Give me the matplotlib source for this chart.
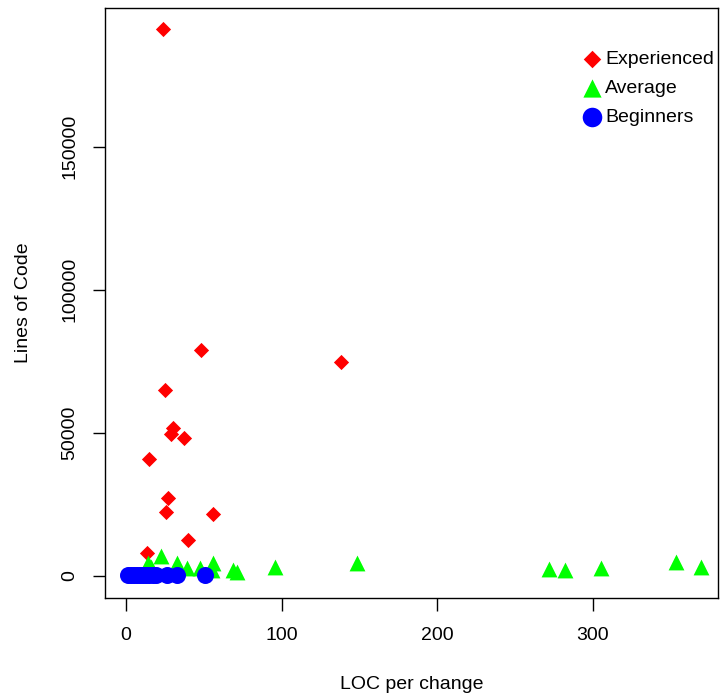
import matplotlib
matplotlib.use("Agg")
import matplotlib.pyplot as plt

plt.rcParams['font.family'] = ['Liberation Sans', 'DejaVu Sans']

exp_x = [23.9, 48.0, 138.1, 25.2, 29.9, 28.8, 37.4, 14.7, 27.1, 25.8, 56.0, 39.9, 13.4]
exp_y = [191000, 79000, 74700, 64900, 51500, 49400, 48000, 40700, 27300, 22300, 21500, 12500, 7800]

avg_x = [22.4, 13.8, 32.9, 38.9, 47.5, 56.0, 55.0, 68.9, 71.1, 95.5, 148.6, 271.9, 282.4, 305.1, 353.8, 369.8, 16.0]
avg_y = [6900, 4300, 4300, 2600, 2600, 4300, 2000, 2000, 1400, 3000, 4300, 2200, 2000, 2600, 4700, 2900, 3000]

beg_x = [1, 3, 5, 7, 9, 11, 13, 15, 17, 19, 26, 33, 51]
beg_y = [200, 150, 300, 100, 250, 200, 150, 300, 200, 100, 250, 200, 150]

fig = plt.figure(figsize=(7.2, 6.96), dpi=100)
ax = fig.add_axes([105/720, 1-598/696, (718-105)/720, (598-8)/696])

ax.scatter(exp_x, exp_y, marker='D', s=60, color='#ff0000', linewidths=0, label='Experienced', zorder=3)
ax.scatter(avg_x, avg_y, marker='^', s=130, color='#00ff00', linewidths=0, label='Average', zorder=3)
ax.scatter(beg_x, beg_y, marker='o', s=150, color='#0000ff', linewidths=0, label='Beginners', zorder=4)

ax.set_xlim(-13.6, 380.6)
ax.set_ylim(-7800, 198500)
ax.set_xticks([0, 100, 200, 300])
ax.set_yticks([0, 50000, 100000, 150000])
ax.set_yticklabels(['0', '50000', '100000', '150000'], rotation=90, va='center')
ax.tick_params(direction='out', length=9, width=1, labelsize=14)
ax.tick_params(axis='x', pad=12)
ax.tick_params(axis='y', pad=10)
for s in ax.spines.values():
    s.set_linewidth(1)
ax.set_xlabel('LOC per change', fontsize=14, labelpad=23)
ax.set_ylabel('Lines of Code', fontsize=14, labelpad=21)

leg = ax.legend(loc='upper left', bbox_to_anchor=(584/720, 1-50/696), bbox_transform=fig.transFigure,
                frameon=False, fontsize=14, markerscale=1.15,
                handlelength=0.8, handletextpad=0.3, labelspacing=0.6, borderaxespad=0, borderpad=0,
                scatterpoints=1)

fig.savefig('out.png', dpi=100)
